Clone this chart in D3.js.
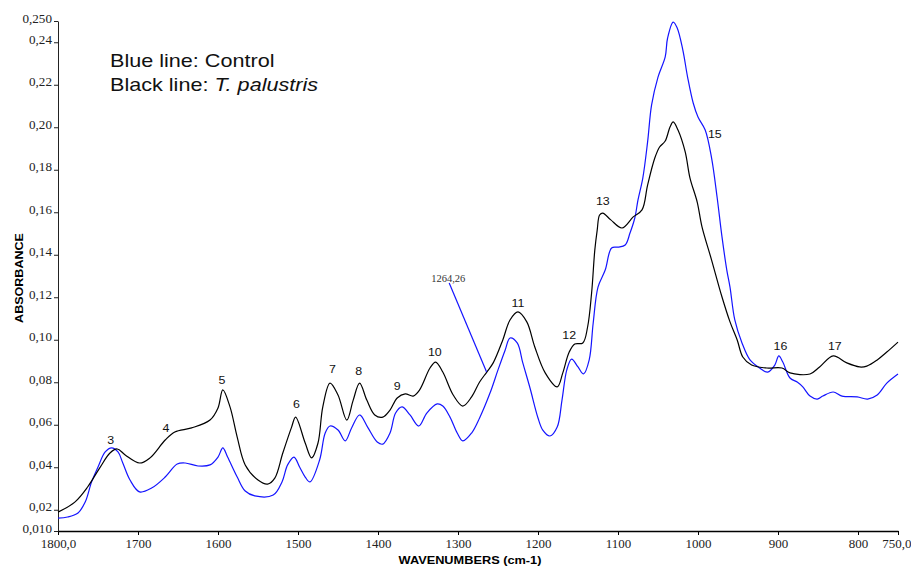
<!DOCTYPE html>
<html>
<head>
<meta charset="utf-8">
<script src="https://cdn.jsdelivr.net/npm/d3@7"></script>
<style>
  html, body { margin: 0; padding: 0; background: #fff; }
  svg { display: block; }
</style>
</head>
<body>
<svg id="chart" width="911" height="567"></svg>
<script>
// ---- Data ----
const controlWavenumber = [1800,1788,1775,1766,1758,1750,1741,1733,1725,1719,1710,1698,1683,1666,1651,1641,1625,1610,1600,1594,1588,1576,1566,1554,1531,1520,1513,1505,1498,1491,1485,1473,1466,1460,1450,1441,1433,1423,1413,1401,1394,1385,1378,1370,1360,1349,1339,1326,1319,1310,1301,1294,1283,1273,1260,1250,1241,1235,1226,1219,1210,1200,1194,1185,1176,1170,1164,1158,1150,1143,1136,1131,1125,1116,1108,1100,1091,1085,1079,1075,1069,1063,1058,1050,1041,1038,1031,1026,1019,1013,1006,1000,991,983,976,970,964,960,954,945,935,923,913,904,899,894,885,876,869,860,851,844,831,820,801,788,776,764,750];
const controlAbsorbance = [0.0161,0.0166,0.0185,0.0236,0.0331,0.0401,0.0472,0.0491,0.0472,0.0420,0.0340,0.0284,0.0302,0.0354,0.0415,0.0420,0.0406,0.0411,0.0448,0.0491,0.0448,0.0354,0.0288,0.0265,0.0269,0.0331,0.0411,0.0448,0.0401,0.0354,0.0331,0.0434,0.0561,0.0594,0.0575,0.0524,0.0585,0.0646,0.0589,0.0519,0.0509,0.0561,0.0655,0.0684,0.0646,0.0594,0.0655,0.0698,0.0688,0.0636,0.0561,0.0524,0.0561,0.0632,0.0749,0.0858,0.0952,0.1008,0.0985,0.0891,0.0773,0.0632,0.0575,0.0547,0.0589,0.0716,0.0858,0.0909,0.0872,0.0839,0.0905,0.1079,0.1248,0.1328,0.1432,0.1436,0.1446,0.1502,0.1573,0.1658,0.1761,0.1931,0.2105,0.2236,0.2331,0.2420,0.2495,0.2467,0.2364,0.2236,0.2114,0.2048,0.1987,0.1855,0.1667,0.1484,0.1328,0.1248,0.1093,0.0985,0.0905,0.0867,0.0848,0.0881,0.0924,0.0895,0.0820,0.0801,0.0778,0.0735,0.0721,0.0735,0.0754,0.0735,0.0731,0.0721,0.0740,0.0796,0.0839];

const palustrisWavenumber = [1800,1779,1763,1748,1735,1726,1716,1698,1685,1666,1654,1633,1610,1600,1594,1585,1576,1566,1550,1538,1529,1519,1508,1503,1491,1483,1475,1469,1460,1450,1439,1431,1423,1414,1404,1394,1385,1376,1366,1356,1348,1335,1328,1319,1306,1294,1283,1273,1264,1256,1244,1235,1225,1214,1204,1191,1176,1169,1161,1154,1144,1138,1133,1129,1126,1123,1119,1109,1095,1081,1070,1063,1054,1048,1041,1035,1031,1025,1016,1010,1001,995,983,970,960,951,944,933,914,895,885,860,848,831,814,798,789,776,764,750];
const palustrisAbsorbance = [0.0189,0.0236,0.0307,0.0396,0.0467,0.0486,0.0458,0.0420,0.0444,0.0528,0.0566,0.0585,0.0622,0.0679,0.0764,0.0684,0.0542,0.0411,0.0340,0.0321,0.0349,0.0467,0.0589,0.0636,0.0514,0.0444,0.0514,0.0684,0.0796,0.0740,0.0622,0.0716,0.0796,0.0716,0.0646,0.0636,0.0669,0.0726,0.0745,0.0735,0.0764,0.0867,0.0895,0.0848,0.0740,0.0688,0.0731,0.0801,0.0848,0.0891,0.0999,0.1093,0.1131,0.1084,0.0966,0.0844,0.0778,0.0844,0.0942,0.0980,0.0985,0.1060,0.1220,0.1422,0.1516,0.1587,0.1596,0.1564,0.1526,0.1578,0.1611,0.1728,0.1855,0.1907,0.1935,0.2001,0.2025,0.1987,0.1884,0.1761,0.1648,0.1531,0.1375,0.1201,0.1084,0.0999,0.0919,0.0881,0.0867,0.0867,0.0844,0.0839,0.0872,0.0924,0.0891,0.0872,0.0876,0.0905,0.0942,0.0989];

const xTickValues = [1800,1700,1600,1500,1400,1300,1200,1100,1000,900,800,750];
const xTickLabels = ["1800,0","1700","1600","1500","1400","1300","1200","1100","1000","900","800","750,0"];
const yTickValues = [0.010,0.02,0.04,0.06,0.08,0.10,0.12,0.14,0.16,0.18,0.20,0.22,0.24,0.250];
const yTickLabels = ["0,010","0,02","0,04","0,06","0,08","0,10","0,12","0,14","0,16","0,18","0,20","0,22","0,24","0,250"];

const peakNames = ["3","4","5","6","7","8","9","10","11","12","13","15","16","17"];
const peakWavenumber = [1734,1665,1595,1502,1457,1424,1376,1329,1225,1161,1119,979,897,829];
const peakLabelAbsorbance = [0.0509,0.0566,0.0792,0.0679,0.0844,0.0834,0.0764,0.0924,0.1154,0.1004,0.1634,0.1949,0.0952,0.0952];

const annotationText = "1264,26";
const annotationFrom = [1311, 0.1267];
const annotationTo = [1264.26, 0.0848];

// ---- Layout ----
const svg = d3.select("#chart");
const plotLeft = 58, plotRight = 898, plotTop = 21, plotBottom = 531;
const serif = "'Liberation Serif','Times New Roman',Times,serif";
const sans = "'Liberation Sans',Arial,Helvetica,sans-serif";

const x = d3.scaleLinear().domain([1800, 750]).range([plotLeft, plotRight]);
const y = d3.scaleLinear().domain([0.010, 0.250]).range([plotBottom, plotTop]);

// Axes
const xAxis = d3.axisBottom(x).tickValues(xTickValues)
  .tickFormat((d, i) => xTickLabels[i]).tickSize(4).tickSizeOuter(0);
const gx = svg.append("g").attr("transform", `translate(0,${plotBottom})`).call(xAxis);
gx.attr("font-family", serif);
gx.select(".domain").attr("stroke", "#000").attr("stroke-width", 1.6);
gx.selectAll(".tick line").attr("stroke", "#000");
gx.selectAll(".tick text").attr("font-family", serif)
  .attr("font-size", 11.8).attr("fill", "#222").attr("dy", "0.85em").attr("y", 6.5)
  .attr("transform", "scale(1.1,1)");
// keep the last label inside the picture
gx.selectAll(".tick text").filter((d, i) => i === xTickValues.length - 1)
  .attr("text-anchor", "end").attr("x", 11.8);

const yAxis = d3.axisLeft(y).tickValues(yTickValues)
  .tickFormat((d, i) => yTickLabels[i]).tickSize(4).tickSizeOuter(0);
const gy = svg.append("g").attr("transform", `translate(${plotLeft},0)`).call(yAxis);
gy.attr("font-family", serif);
gy.select(".domain").attr("stroke", "#222").attr("stroke-width", 1);
gy.selectAll(".tick line").attr("stroke", "#222");
gy.selectAll(".tick text").attr("font-family", serif)
  .attr("font-size", 11.5).attr("fill", "#222").attr("x", -5.3).attr("dy", "0.1em")
  .attr("transform", "scale(1.14,1)");

// Axis titles (horizontally stretched like the reference rendering)
svg.append("text").attr("transform", "translate(470,564) scale(1.16,1)").attr("text-anchor", "middle")
  .attr("font-family", sans).attr("font-weight", "bold")
  .attr("font-size", 11).attr("fill", "#000").text("WAVENUMBERS (cm-1)");
svg.append("text").attr("transform", "translate(22.5,278) rotate(-90) scale(1.14,1)").attr("text-anchor", "middle")
  .attr("font-family", sans).attr("font-weight", "bold")
  .attr("font-size", 11).attr("fill", "#000").text("ABSORBANCE");

// Lines
const line = d3.line().x(d => x(d[0])).y(d => y(d[1])).curve(d3.curveCatmullRom.alpha(0.5));
const controlData = controlWavenumber.map((w, i) => [w, controlAbsorbance[i]]);
const palustrisData = palustrisWavenumber.map((w, i) => [w, palustrisAbsorbance[i]]);

svg.append("path").datum(controlData).attr("d", line)
  .attr("fill", "none").attr("stroke", "#1414ff").attr("stroke-width", 1.2);
svg.append("path").datum(palustrisData).attr("d", line)
  .attr("fill", "none").attr("stroke", "#000").attr("stroke-width", 1.2);

// Annotation
svg.append("line")
  .attr("x1", x(annotationFrom[0])).attr("y1", y(annotationFrom[1]))
  .attr("x2", x(annotationTo[0])).attr("y2", y(annotationTo[1]))
  .attr("stroke", "#1414ff").attr("stroke-width", 1.2);
svg.append("text").attr("x", x(annotationFrom[0]) - 1).attr("y", y(annotationFrom[1]) - 1.5)
  .attr("text-anchor", "middle").attr("font-family", serif)
  .attr("font-size", 10.5).attr("fill", "#333").text(annotationText);

// Peak labels
svg.append("g").selectAll("text").data(peakNames).join("text")
  .attr("transform", (d, i) => `translate(${x(peakWavenumber[i])},${y(peakLabelAbsorbance[i])}) scale(1.08,1)`)
  .attr("text-anchor", "middle")
  .attr("font-family", sans)
  .attr("font-size", 11.5).attr("fill", "#111").text(d => d);

// Legend
const legend = svg.append("g").attr("transform", "translate(110,0) scale(1.2,1)")
  .attr("font-family", sans).attr("font-size", 18).attr("fill", "#111");
legend.append("text").attr("x", 0).attr("y", 67.5).text("Blue line: Control");
const t2 = legend.append("text").attr("x", 0).attr("y", 91.5);
t2.append("tspan").text("Black line: ");
t2.append("tspan").attr("font-style", "italic").text("T. palustris");
</script>
</body>
</html>
